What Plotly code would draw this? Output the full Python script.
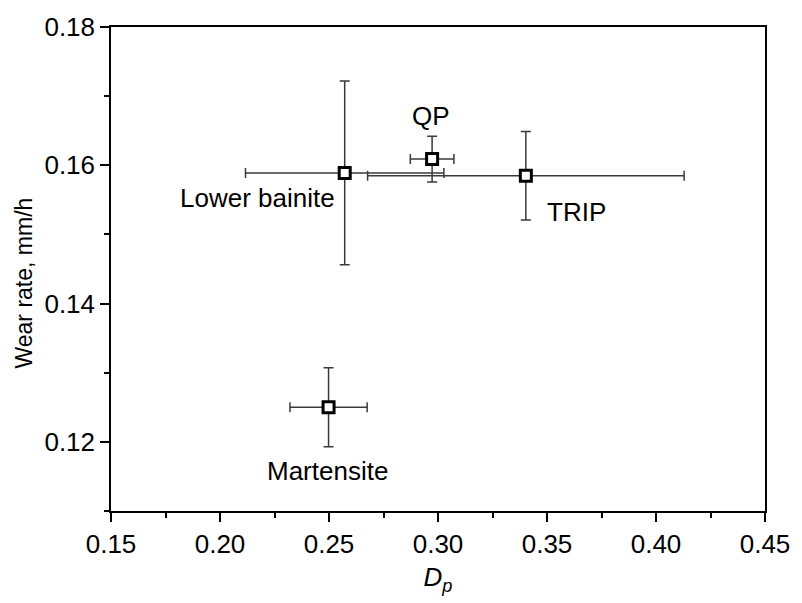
import plotly.graph_objects as go

# Data
materials = ["Lower bainite", "QP", "TRIP", "Martensite"]
dp = [0.2572, 0.2973, 0.3403, 0.2498]
dp_err = [0.0455, 0.0100, 0.0726, 0.0177]
wear = [0.1589, 0.1609, 0.1585, 0.1250]
wear_err = [0.0133, 0.0033, 0.0064, 0.0057]

# label positions (data coords)
label_x = [0.2172, 0.2970, 0.3635, 0.2495]
label_y = [0.1553, 0.1671, 0.1533, 0.1158]

x_ticks = [0.15, 0.20, 0.25, 0.30, 0.35, 0.40, 0.45]
y_ticks = [0.12, 0.14, 0.16, 0.18]

FONT = "Liberation Sans, Arial, sans-serif"
FS = 26

fig = go.Figure()
fig.add_trace(go.Scatter(
    x=dp, y=wear, mode="markers",
    marker=dict(symbol="square", size=11, color="white",
                line=dict(color="black", width=3)),
    error_x=dict(type="data", array=dp_err, color="#3a3a3a", thickness=1.5, width=5),
    error_y=dict(type="data", array=wear_err, color="#3a3a3a", thickness=1.5, width=5),
    showlegend=False, hoverinfo="skip",
))

for lx, ly, t in zip(label_x, label_y, materials):
    fig.add_annotation(x=lx, y=ly, text=t, showarrow=False,
                       xanchor="center", yanchor="middle",
                       font=dict(family=FONT, size=FS, color="black"))

# y-axis title placed as annotation (slightly below axis centre, as in reference)
fig.add_annotation(x=0, xref="paper", xshift=-87, y=0.1429, yref="y",
                   text="Wear rate, mm/h", textangle=-90, showarrow=False,
                   xanchor="center", yanchor="middle",
                   font=dict(family=FONT, size=23, color="black"))

axis_common = dict(
    showgrid=False, zeroline=False, showline=True, linecolor="black",
    linewidth=1.5, mirror=True, ticks="outside", ticklen=9, tickwidth=1.5,
    tickcolor="black", tickfont=dict(family=FONT, size=FS, color="black"),
)

fig.update_xaxes(
    range=[0.15, 0.45], tickvals=x_ticks, ticktext=[f"{v:.2f}" for v in x_ticks],
    minor=dict(ticks="outside", ticklen=5, tickwidth=1.5, tickcolor="black", dtick=0.025),
    title=dict(text="<i>D</i><sub><i>p</i></sub>", font=dict(family=FONT, size=FS, color="black"),
               standoff=10),
    **axis_common,
)
fig.update_yaxes(
    range=[0.11, 0.18], tickvals=y_ticks, ticktext=[f"{v:.2f}" for v in y_ticks],
    minor=dict(ticks="outside", ticklen=5, tickwidth=1.5, tickcolor="black", dtick=0.01,
               tick0=0.11),
    **axis_common,
)

fig.update_layout(
    width=802, height=603,
    margin=dict(l=111, r=26, t=20, b=92),
    plot_bgcolor="white", paper_bgcolor="white",
    font=dict(family=FONT, color="black"),
)

fig.write_html("out.html")
